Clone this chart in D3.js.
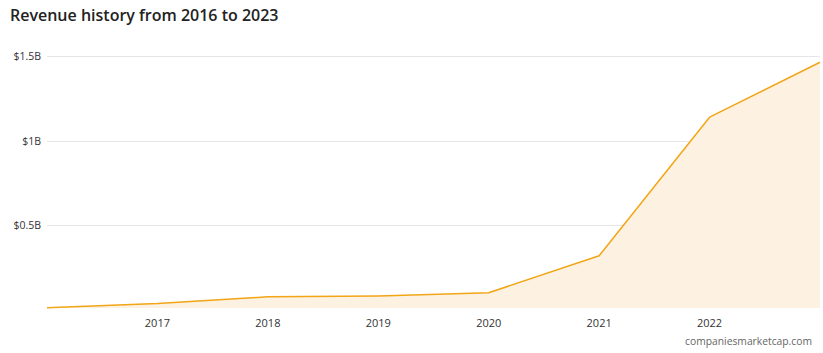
<!DOCTYPE html>
<html>
<head>
<meta charset="utf-8">
<script src="https://cdn.jsdelivr.net/npm/d3@7"></script>
<style>
  body { margin: 0; background: #fff; }
  text { font-family: "Open Sans", "Noto Sans", sans-serif; }
</style>
</head>
<body>
<div id="chart"></div>
<script>
const years = [2016, 2017, 2018, 2019, 2020, 2021, 2022, 2023];
// revenue in billions USD
const revenue = [0.011, 0.035, 0.075, 0.08, 0.099, 0.318, 1.138, 1.463];
const yTicks = [0.5, 1, 1.5];
const yTickLabels = ["$0.5B", "$1B", "$1.5B"];
const xTicks = [2017, 2018, 2019, 2020, 2021, 2022];

const WIDTH = 823;
const HEIGHT = 353;
const plot = { left: 47, right: 820, bottom: 308 };

let svg = d3
  .select("#chart")
  .append("svg")
  .attr("width", WIDTH)
  .attr("height", HEIGHT);

let x = d3.scaleLinear().domain([2016, 2023]).range([plot.left, plot.right]);
let y = d3.scaleLinear().domain([0, 1.5]).range([309.5, 56]);

//Title
svg
  .append("text")
  .attr("x", 10)
  .attr("y", 21)
  .style("font-size", "16px")
  .style("font-weight", "600")
  .style("fill", "#222")
  .text("Revenue history from 2016 to 2023");

//Grid lines
svg
  .append("g")
  .selectAll("line")
  .data(yTicks)
  .enter()
  .append("line")
  .attr("x1", plot.left)
  .attr("x2", plot.right)
  .attr("y1", (d) => Math.round(y(d)) + 0.5)
  .attr("y2", (d) => Math.round(y(d)) + 0.5)
  .style("stroke", "#e6e6e6")
  .style("stroke-width", 1);

//Y labels
svg
  .append("g")
  .selectAll("text")
  .data(yTicks)
  .enter()
  .append("text")
  .attr("x", 41)
  .attr("y", (d) => y(d) + 4)
  .attr("text-anchor", "end")
  .style("font-size", "10.5px")
  .style("fill", "#333")
  .text((d, i) => yTickLabels[i]);

//X labels
svg
  .append("g")
  .selectAll("text")
  .data(xTicks)
  .enter()
  .append("text")
  .attr("x", (d) => x(d))
  .attr("y", 327)
  .attr("text-anchor", "middle")
  .style("font-size", "11px")
  .style("fill", "#333")
  .text((d) => d);

let series = years.map((yr, i) => ({ year: yr, value: revenue[i] }));

//Area
let area = d3
  .area()
  .x((d) => x(d.year))
  .y0(plot.bottom)
  .y1((d) => y(d.value));

svg
  .append("path")
  .datum(series)
  .attr("d", area)
  .style("fill", "#fdf1e1");

//Line
let line = d3
  .line()
  .x((d) => x(d.year))
  .y((d) => y(d.value));

svg
  .append("path")
  .datum(series)
  .attr("d", line)
  .style("fill", "none")
  .style("stroke", "#f2a516")
  .style("stroke-width", 1.5)
  .style("stroke-linejoin", "round");

//Watermark
svg
  .append("text")
  .attr("x", 812)
  .attr("y", 345)
  .attr("text-anchor", "end")
  .style("font-size", "10.3px")
  .style("fill", "#666")
  .text("companiesmarketcap.com");
</script>
</body>
</html>
